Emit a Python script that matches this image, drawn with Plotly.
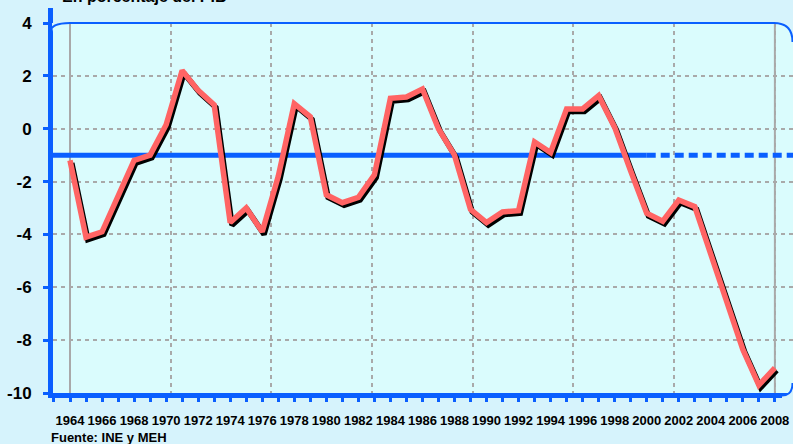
import plotly.graph_objects as go

# ---------------- data ----------------
years = list(range(1964, 2009))
saldo = [-1.2, -4.1, -3.9, -2.6, -1.2, -1.0, 0.15, 2.2, 1.45, 0.9,
         -3.55, -3.0, -3.9, -1.8, 0.95, 0.45, -2.5, -2.8, -2.6, -1.75,
         1.15, 1.2, 1.5, 0.0, -1.0, -3.05, -3.55, -3.15, -3.1, -0.5,
         -0.9, 0.75, 0.75, 1.25, 0.05, -1.6, -3.2, -3.5, -2.7, -2.95,
         -4.8, -6.65, -8.35, -9.7, -9.05]
media_valor = -1.0
media_fin_solida = 2000
y_ticks = [-10, -8, -6, -4, -2, 0, 2, 4]
y_tick_labels = ["-10", "-8", "-6", "-4", "-2", "0", "2", "4"]
x_tick_years = list(range(1964, 2009, 2))
x_tick_labels = [str(y) for y in x_tick_years]
title_text = "En porcentaje del PIB"
source_text = "Fuente: INE y MEH"

# ---------------- style / geometry ----------------
W, H = 793, 444
ML, MR, MT, MB = 53, 0, 23, 51
PW, PH = W - ML - MR, H - MT - MB
BLUE = "#0A5FFF"
RED = "#FF6464"
GRID = "#A9A9A9"
OUTER = "#D6F3FC"
INNER = "#DAFCFD"

first_px = 17.0            # pixels from plot left to first year
sx = 16.02                 # px per year
y_lo, y_hi = y_ticks[0], y_ticks[-1]
sy = PH / (y_hi - y_lo)
xr0 = years[0] - first_px / sx
xr1 = xr0 + PW / sx
span = years[-1] - years[0]
n_div = 7
g0 = (xr0 - years[0]) * n_div / span
g1 = (xr1 - years[0]) * n_div / span
dx, dy = 1.8, 2.6          # shadow offset in px


def px(xp):
    return (xp - ML) / PW


def py(yp):
    return (H - MB - yp) / PH


fig = go.Figure()

fig.add_trace(go.Scatter(x=[xr0, media_fin_solida], y=[media_valor, media_valor],
                         mode="lines", line=dict(color=BLUE, width=5),
                         hoverinfo="skip", showlegend=False))
fig.add_trace(go.Scatter(x=[media_fin_solida, xr1], y=[media_valor, media_valor],
                         mode="lines", line=dict(color=BLUE, width=5, dash="9px,5px"),
                         hoverinfo="skip", showlegend=False))
fig.add_trace(go.Scatter(x=[], y=[], xaxis="x2", yaxis="y", showlegend=False))
fig.add_trace(go.Scatter(x=years, y=saldo, xaxis="x3", yaxis="y3", mode="lines",
                         line=dict(color="#000000", width=5.5),
                         hoverinfo="skip", showlegend=False))
fig.add_trace(go.Scatter(x=years, y=saldo, xaxis="x4", yaxis="y4", mode="lines",
                         line=dict(color=RED, width=5.5), showlegend=False))

shapes = []
for yr in (years[0], years[-1]):
    shapes.append(dict(type="line", xref="x", yref="paper", x0=yr, x1=yr, y0=0, y1=1,
                       line=dict(color=GRID, width=2), layer="below"))
shapes.append(dict(type="path", xref="paper", yref="paper", layer="above",
                   path=f"M {px(ML-1)},{py(MT-1)} L {px(ML-1)},{py(MT+9)} Q {px(ML-1)},{py(MT)} {px(ML+17)},{py(MT)} Z",
                   fillcolor=OUTER, line=dict(width=0)))
shapes.append(dict(type="path", xref="paper", yref="paper", layer="above",
                   path=f"M {px(W+1)},{py(MT-1)} L {px(W-19)},{py(MT-1)} Q {px(W)},{py(MT)} {px(W)},{py(MT+19)} L {px(W+1)},{py(MT+19)} Z",
                   fillcolor=OUTER, line=dict(width=0)))
shapes.append(dict(type="path", xref="paper", yref="paper", layer="above",
                   path=f"M {px(W-11)},{py(H-MB+12)} L {px(W-11)},{py(H-MB+2.5)} Q {px(W)},{py(H-MB+2.5)} {px(W)},{py(H-MB-10)} L {px(W+1)},{py(H-MB-10)} L {px(W+1)},{py(H-MB+12)} Z",
                   fillcolor=OUTER, line=dict(width=0)))
shapes.append(dict(type="path", xref="paper", yref="paper", layer="above",
                   path=f"M {px(ML-2.5)},{py(MT+9)} Q {px(ML-2.5)},{py(MT)} {px(ML+17)},{py(MT)} L {px(W-19)},{py(MT)} Q {px(W-0.5)},{py(MT)} {px(W-0.5)},{py(MT+19)}",
                   line=dict(color=BLUE, width=2)))
shapes.append(dict(type="path", xref="paper", yref="paper", layer="above",
                   path=f"M {px(W-11)},{py(H-MB+2.5)} Q {px(W-0.5)},{py(H-MB+2.5)} {px(W-0.5)},{py(H-MB-10)}",
                   line=dict(color=BLUE, width=2)))
shapes.append(dict(type="line", xref="paper", yref="paper", layer="above",
                   x0=px(ML-2.5), x1=px(ML-2.5), y0=py(MT), y1=py(8),
                   line=dict(color=BLUE, width=5)))

annotations = [
    dict(text=f"<b>{title_text}</b>", xref="paper", yref="paper",
         x=px(60), y=py(7), xanchor="left", yanchor="bottom", showarrow=False,
         font=dict(family="Liberation Sans, Arial, sans-serif", size=16, color="#000000")),
    dict(text=f"<b>{source_text}</b>", xref="paper", yref="paper",
         x=px(49), y=py(437), xanchor="left", yanchor="middle", showarrow=False,
         font=dict(family="Liberation Sans, Arial, sans-serif", size=13, color="#000000")),
]

fig.update_layout(
    width=W, height=H,
    margin=dict(l=ML, r=MR, t=MT, b=MB, pad=0, autoexpand=False),
    paper_bgcolor=OUTER, plot_bgcolor=INNER,
    showlegend=False,
    shapes=shapes, annotations=annotations,
    xaxis=dict(range=[xr0, xr1], tickmode="array", tickvals=x_tick_years, ticktext=x_tick_labels,
               ticks="outside", ticklen=4, tickwidth=3, tickcolor=BLUE, tickangle=0,
               minor=dict(dtick=1, tick0=years[0], ticks="outside", ticklen=4, tickwidth=3,
                          tickcolor=BLUE, showgrid=False),
               showline=True, linecolor=BLUE, linewidth=5, showgrid=False, zeroline=False,
               ticklabelstandoff=7, automargin=False,
               tickfont=dict(family="Liberation Sans, Arial, sans-serif",
                             size=13, color="#000000", weight="bold")),
    yaxis=dict(range=[y_lo, y_hi], tickmode="array", tickvals=y_ticks, ticktext=y_tick_labels,
               ticks="outside", ticklen=5, tickwidth=3, tickcolor=BLUE,
               showline=True, linecolor=BLUE, linewidth=5,
               showgrid=True, gridcolor=GRID, gridwidth=2, griddash="4px,4px",
               zeroline=False, ticklabelstandoff=8, automargin=False,
               tickfont=dict(family="Liberation Sans, Arial, sans-serif", size=17,
                             color="#000000", weight="bold")),
    xaxis2=dict(overlaying="x", anchor="y", range=[g0, g1], tickmode="linear", tick0=0, dtick=1,
                showgrid=True, gridcolor=GRID, gridwidth=2, griddash="4px,4px",
                showticklabels=False, ticks="", showline=False, zeroline=False, automargin=False),
    xaxis3=dict(overlaying="x", anchor="y3", range=[xr0 - dx / sx, xr1 - dx / sx], visible=False),
    yaxis3=dict(overlaying="y", anchor="x3", range=[y_lo + dy / sy, y_hi + dy / sy], visible=False),
    xaxis4=dict(overlaying="x", anchor="y4", range=[xr0, xr1], visible=False),
    yaxis4=dict(overlaying="y", anchor="x4", range=[y_lo, y_hi], visible=False),
)

fig.write_html("out.html", config={"displayModeBar": False},
               post_script="document.body.style.margin='0px';document.body.style.padding='0px';")
